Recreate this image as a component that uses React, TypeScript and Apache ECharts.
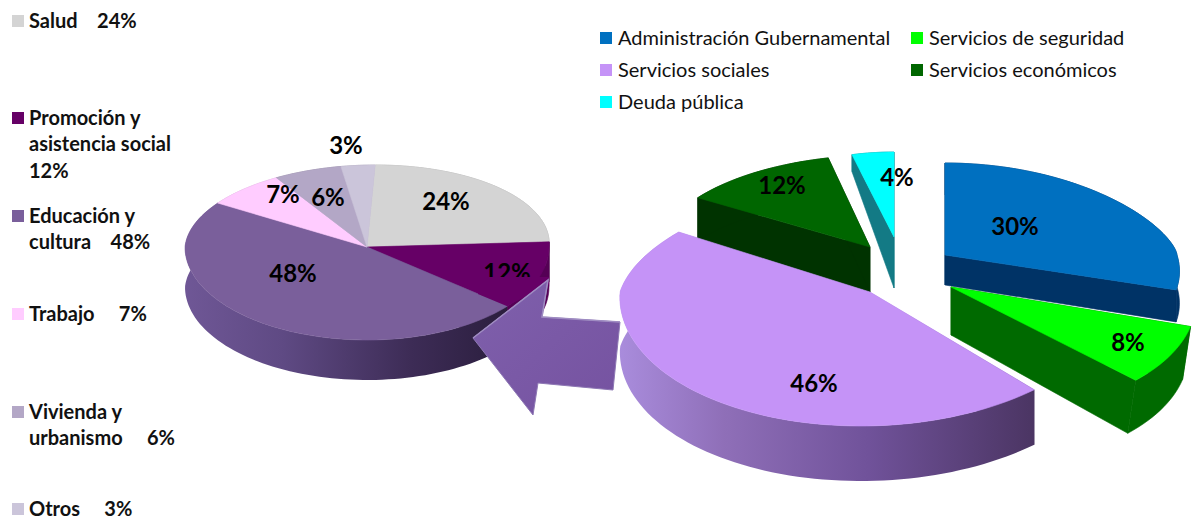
import React, { useEffect, useRef } from "react";
import * as echarts from "echarts";

const leftCategories = ["Salud", "Promoción y asistencia social", "Educación y cultura", "Trabajo", "Vivienda y urbanismo", "Otros"];
const leftValues = [24, 12, 48, 7, 6, 3];
const rightCategories = ["Administración Gubernamental", "Servicios de seguridad", "Servicios sociales", "Servicios económicos", "Deuda pública"];
const rightValues = [30, 8, 46, 12, 4];

const FONT = "Lato, 'Open Sans', sans-serif";

const leftColors = ["#d4d4d4", "#660066", "#7a5f9b", "#ffccff", "#b3a7c6", "#cbc5da"];
const rightColors = ["#0070c0", "#00ff00", "#c593f7", "#006600", "#00ffff"];

const grad = (stops: [number, string][]) => ({
  type: "linear", x: 0, y: 0, x2: 1, y2: 0,
  colorStops: stops.map(([offset, color]) => ({ offset, color })),
});

const leftWalls: any[] = ["#a8a8a8", "#550055",
  grad([[0, "#6f5796"], [0.3, "#5f4a84"], [0.7, "#3d2c56"], [1, "#2b1e3e"]]),
  "#c9a0c9", "#8d839c", "#a09bac"];
const rightWalls: any[] = ["#003366", "#006a00",
  grad([[0, "#a98cdc"], [0.25, "#8f6fb8"], [0.6, "#70529a"], [1, "#4b3563"]]),
  "#003300", "#137a85"];

// per-slice projection: centre, radii, rear/front shear, rim and apex depth, rear flattening
type Geo = { cx: number; cy: number; rx: number; back: number; front: number; sb: number; sf: number; d: number; da: number; dx?: number; p?: number };
const leftGeo: Geo = { cx: 367, cy: 247, rx: 182, back: 82, front: 93, sb: -0.1, sf: 0, d: 40, da: 40 };
const rightGeo: Geo[] = [
  { cx: 945, cy: 255, rx: 232, back: 92, front: 113, sb: 0, sf: 0.3, d: 32, da: 30, p: 1.35 },
  { cx: 951, cy: 287, rx: 244, back: 123, front: 128, sb: 0.19, sf: 0.19, d: 53, da: 48, dx: -8 },
  { cx: 870, cy: 292, rx: 250, back: 112, front: 134, sb: -0.33, sf: -0.07, d: 55, da: 55 },
  { cx: 870, cy: 247, rx: 211, back: 92, front: 92, sb: -0.12, sf: -0.12, d: 43, da: 45 },
  { cx: 894, cy: 237, rx: 169, back: 85, front: 85, sb: 0, sf: 0, d: 17, da: 51 },
];
const leftLabelPos = [[446, 200], [507, 271], [293, 272], [283, 193], [328, 196], [346, 144]];
const rightLabelPos = [[1015, 225], [1128, 341], [814, 382], [782, 184], [897, 176]];

const rimPoint = (g: Geo, deg: number) => {
  const t = (deg * Math.PI) / 180;
  const c = Math.cos(t);
  const dy = c > 0 ? -Math.pow(c, g.p || 1) * g.back : -c * g.front;
  return [g.cx + g.rx * Math.sin(t) + (dy < 0 ? g.sb : g.sf) * dy, g.cy + dy];
};

const sliceRenderer = (values: number[], colors: string[], walls: any[], geo: (i: number) => Geo, labels: number[][]) => {
  const total = values.reduce((a, b) => a + b, 0);
  return (params: any) => {
    const i = params.dataIndex;
    const g = geo(i);
    const before = values.slice(0, i).reduce((a, b) => a + b, 0);
    const start = (before / total) * 360;
    const end = ((before + values[i]) / total) * 360;
    const arc: number[][] = [];
    const steps = Math.max(2, Math.ceil((end - start) / 2));
    for (let k = 0; k <= steps; k++) arc.push(rimPoint(g, start + ((end - start) * k) / steps));
    const dx = g.dx || 0;
    const lower = (p: number[]) => [p[0] + dx, p[1] + g.d];
    const apex = [g.cx, g.cy];
    const apexLow = [g.cx, g.cy + g.da];
    const wallFill = walls[i];
    const solid = typeof wallFill === "string" ? wallFill : undefined;
    const poly = (points: number[][], fill: any, z2: number, stroke?: string) => ({
      type: "polygon", z2, shape: { points },
      style: { fill, stroke: stroke || "none", lineWidth: stroke ? 0.6 : 0 },
    });
    return {
      type: "group",
      children: [
        poly([apex, apexLow, lower(arc[0]), arc[0]], wallFill, 1, solid),
        poly([apex, apexLow, lower(arc[arc.length - 1]), arc[arc.length - 1]], wallFill, 1, solid),
        poly([...arc, ...arc.map(lower).reverse()], wallFill, 2, solid),
        poly([apex, ...arc], colors[i], 10, colors[i]),
        {
          type: "text", z2: 20,
          style: {
            text: `${values[i]}%`, x: labels[i][0], y: labels[i][1],
            fontFamily: FONT, fontWeight: "bold", fontSize: 24, fill: "#000",
            align: "center", verticalAlign: "middle",
          },
        },
      ],
    };
  };
};

const txt = (x: number, y: number, text: string, bold: boolean, size: number) => ({
  type: "text", x, y, z: 30,
  style: { text, fontFamily: FONT, fontWeight: bold ? "bold" : "normal", fontSize: size, fill: "#111", align: "left", verticalAlign: "middle" },
});
const sq = (x: number, y: number, s: number, fill: string) => ({
  type: "rect", z: 30, shape: { x, y, width: s, height: s }, style: { fill },
});

const leftLegendRows: [number, number | null, string][] = [
  [21, 0, `${leftCategories[0]}    ${leftValues[0]}%`],
  [118, 1, "Promoción y"],
  [144, null, "asistencia social"],
  [171, null, `${leftValues[1]}%`],
  [216, 2, "Educación y"],
  [242, null, `cultura    ${leftValues[2]}%`],
  [314, 3, `${leftCategories[3]}     ${leftValues[3]}%`],
  [412, 4, "Vivienda y"],
  [438, null, `urbanismo     ${leftValues[4]}%`],
  [509, 5, `${leftCategories[5]}     ${leftValues[5]}%`],
];
const rightLegendCells = [[600, 38], [911, 38], [600, 70], [911, 70], [600, 102]];

export default function App() {
  const ref = useRef<HTMLDivElement>(null);
  useEffect(() => {
    document.body.style.margin = "0";
    const chart = echarts.init(ref.current!, undefined, { renderer: "svg" });
    const graphic: any[] = [];
    leftLegendRows.forEach(([y, idx, t]) => {
      if (idx !== null) graphic.push(sq(12, y - 6, 12, leftColors[idx]));
      graphic.push(txt(29, y - 1, t, true, 20));
    });
    rightCategories.forEach((c, i) => {
      const [x, y] = rightLegendCells[i];
      graphic.push(sq(x, y - 6, 12, rightColors[i]));
      graphic.push(txt(x + 18, y - 1, c, false, 20));
    });
    // dark patch that clips the lower half of the 12% label, as in the picture
    graphic.push({ type: "polygon", z: 15, shape: { points: [[478, 277], [549, 277], [549, 285], [507, 306], [478, 294]] }, style: { fill: "#660066" } });
    // arrow between the two pies, with its bevelled top edge
    graphic.push({
      type: "polygon", z: 20,
      shape: { points: [[473, 338], [548, 280], [542, 317], [620, 322], [613, 390], [538, 383], [533, 415]] },
      style: {
        fill: { type: "linear", x: 0, y: 0, x2: 1, y2: 1, colorStops: [{ offset: 0, color: "#7f60ac" }, { offset: 1, color: "#7552a0" }] },
        stroke: "#8e78b4", lineWidth: 1,
      },
    });
    graphic.push({
      type: "polyline", z: 21,
      shape: { points: [[473, 338], [548, 280], [542, 317], [620, 322]] },
      style: { fill: "none", stroke: "#9f8cc2", lineWidth: 1.5 },
    });
    chart.setOption({
      animation: false,
      backgroundColor: "#fff",
      graphic: { elements: graphic },
      series: [
        { type: "custom", coordinateSystem: "none", silent: true, data: leftValues.map((v, i) => ({ name: leftCategories[i], value: v })),
          renderItem: sliceRenderer(leftValues, leftColors, leftWalls, () => leftGeo, leftLabelPos) },
        { type: "custom", coordinateSystem: "none", silent: true, data: rightValues.map((v, i) => ({ name: rightCategories[i], value: v })),
          renderItem: sliceRenderer(rightValues, rightColors, rightWalls, (i) => rightGeo[i], rightLabelPos) },
      ],
    });
    return () => chart.dispose();
  }, []);
  return <div ref={ref} style={{ position: "absolute", left: 0, top: 0, width: 1192, height: 521 }} />;
}
